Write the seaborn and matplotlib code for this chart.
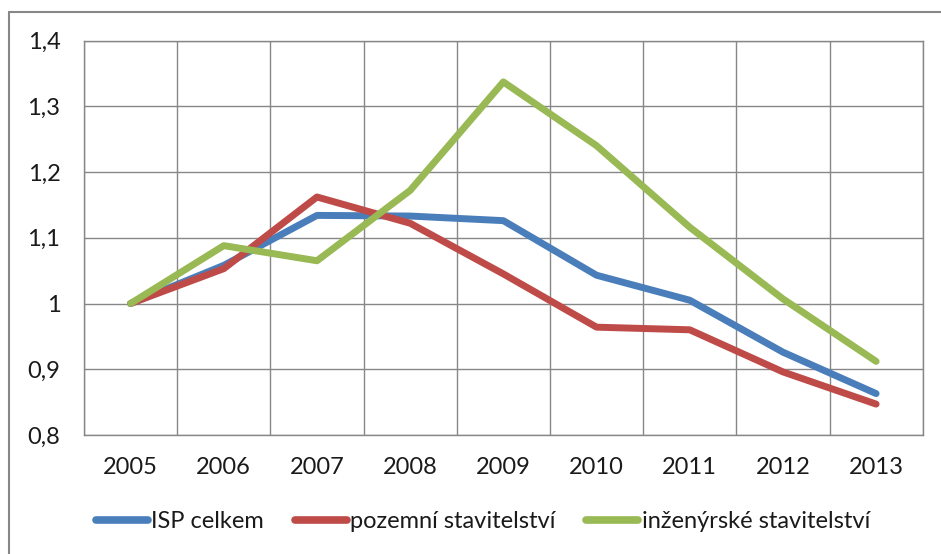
import matplotlib
matplotlib.use("Agg")
import matplotlib.pyplot as plt
from matplotlib.lines import Line2D
import numpy as np
import pandas as pd
import seaborn as sns

years = ["2005", "2006", "2007", "2008", "2009", "2010", "2011", "2012", "2013"]
isp_celkem = [1.0, 1.058, 1.134, 1.133, 1.126, 1.043, 1.005, 0.926, 0.863]
pozemni = [1.0, 1.053, 1.162, 1.122, 1.045, 0.964, 0.960, 0.896, 0.847]
inzenyrske = [1.0, 1.088, 1.065, 1.172, 1.337, 1.240, 1.116, 1.007, 0.912]
series_names = ["ISP celkem", "pozemní stavitelství", "inženýrské stavitelství"]
colors = ["#4a7ebb", "#be4b48", "#98b954"]
yticks = [0.8, 0.9, 1.0, 1.1, 1.2, 1.3, 1.4]
ytick_labels = ["0,8", "0,9", "1", "1,1", "1,2", "1,3", "1,4"]

sns.set_theme(style="white")
plt.rcParams["font.family"] = ["Lato", "DejaVu Sans"]

rows = []
for name, vals in zip(series_names, [isp_celkem, pozemni, inzenyrske]):
    for i, v in enumerate(vals):
        rows.append({"pos": i, "value": v, "series": name})
df = pd.DataFrame(rows)

fig = plt.figure(figsize=(9.41, 5.54), dpi=100)
ax = fig.add_axes([84 / 941, 1 - 435 / 554, (922.7 - 84) / 941, (435 - 40.5) / 554])

sns.lineplot(data=df, x="pos", y="value", hue="series", hue_order=series_names,
             palette=colors, linewidth=5, ax=ax, legend=False, sort=False)
for l in ax.lines:
    l.set_solid_capstyle("round")
    l.set_solid_joinstyle("round")

ax.set_xlim(-0.5, len(years) - 0.5)
ax.set_ylim(0.8, 1.4)
ax.set_xticks(range(len(years)))
ax.set_xticklabels(years)
ax.set_xticks(np.arange(-0.5, len(years), 1.0), minor=True)
ax.set_yticks(yticks)
ax.set_yticklabels(ytick_labels)
ax.set_xlabel("")
ax.set_ylabel("")

ax.grid(False)
ax.xaxis.grid(True, which="minor", color="#878787", linewidth=1.0)
ax.yaxis.grid(True, which="major", color="#878787", linewidth=1.0)
ax.set_axisbelow(True)
for s in ax.spines.values():
    s.set_color("#878787")
    s.set_linewidth(1.0)
ax.tick_params(axis="both", which="both", length=0, labelsize=17, colors="#1a1a1a")
ax.tick_params(axis="x", pad=16)
ax.tick_params(axis="y", pad=17)

handles = [Line2D([0], [0], color=c, linewidth=5.5, solid_capstyle="round") for c in colors]
leg = fig.legend(handles, series_names, loc="center", bbox_to_anchor=(483 / 941, 1 - 522 / 554),
                 ncol=3, frameon=False, fontsize=17, handlelength=2.2, handletextpad=0.15,
                 columnspacing=1.3)
for t in leg.get_texts():
    t.set_color("#1a1a1a")

# outer chart border
fig.add_artist(Line2D([9 / 941, 9 / 941], [0, 1 - 12 / 554], transform=fig.transFigure,
                      color="#878787", linewidth=1.5))
fig.add_artist(Line2D([9 / 941, 1], [1 - 12 / 554, 1 - 12 / 554], transform=fig.transFigure,
                      color="#878787", linewidth=1.5))

fig.savefig("out.png", dpi=100)
